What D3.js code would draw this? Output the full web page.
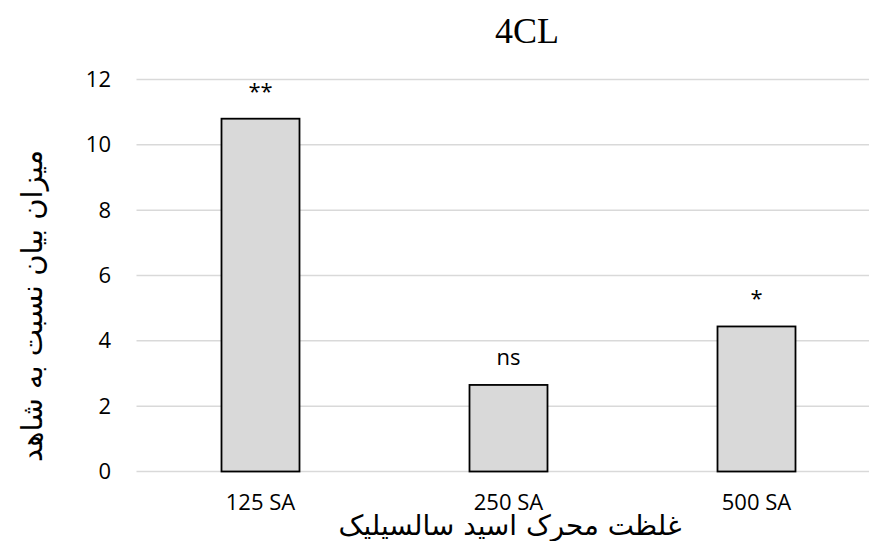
<!DOCTYPE html>
<html>
<head>
<meta charset="utf-8">
<script src="https://cdn.jsdelivr.net/npm/d3@7/dist/d3.min.js"></script>
<style>
  html, body { margin: 0; padding: 0; background: #fff; }
  svg { display: block; }
</style>
</head>
<body>
<svg id="chart" width="869" height="541"></svg>
<script>
// Relative 4CL expression at three salicylic-acid elicitor concentrations
const categories = ["125 SA", "250 SA", "500 SA"];
const expression = [10.8, 2.65, 4.44];
const significance = ["**", "ns", "*"];
const yTicks = [0, 2, 4, 6, 8, 10, 12];

const chartTitle = "4CL";
const xTitle = "غلظت محرک اسید سالسیلیک";
const yTitle = "میزان بیان نسبت به شاهد";

const svg = d3.select("#chart");
const W = 869, H = 541;

const x = d3.scaleBand()
  .domain(categories)
  .range([136.5, 880.5])
  .paddingInner(0.6855)
  .paddingOuter(0.6855 / 2);

const y = d3.scaleLinear()
  .domain([0, 12])
  .range([471.5, 79.5]);

// horizontal gridlines
svg.append("g")
  .selectAll("line")
  .data(yTicks)
  .join("line")
  .attr("x1", 136.5)
  .attr("x2", W)
  .attr("y1", d => y(d))
  .attr("y2", d => y(d))
  .attr("stroke", "#d9d9d9")
  .attr("stroke-width", 1.5);

// bars
svg.append("g")
  .selectAll("rect")
  .data(categories)
  .join("rect")
  .attr("x", d => x(d))
  .attr("width", x.bandwidth())
  .attr("y", (d, i) => y(expression[i]))
  .attr("height", (d, i) => y(0) - y(expression[i]))
  .attr("fill", "#d9d9d9")
  .attr("stroke", "#000")
  .attr("stroke-width", 1.8);

// significance marks above bars
svg.append("g")
  .selectAll("text")
  .data(categories)
  .join("text")
  .attr("x", d => x(d) + x.bandwidth() / 2)
  .attr("y", (d, i) => y(expression[i]) - 20)
  .attr("text-anchor", "middle")
  .attr("font-family", "'Open Sans', sans-serif")
  .attr("font-size", 22)
  .attr("fill", "#000")
  .text((d, i) => significance[i]);

// y axis tick labels
const yAxis = d3.axisLeft(y).tickValues(yTicks).tickSize(0).tickPadding(0);
const gy = svg.append("g").attr("transform", "translate(111,0)").call(yAxis);
gy.select(".domain").remove();
gy.selectAll("text")
  .attr("font-family", "'Open Sans', sans-serif")
  .attr("font-size", 22)
  .attr("fill", "#000");

// x axis tick labels
const xAxis = d3.axisBottom(x).tickSize(0).tickPadding(0);
const gx = svg.append("g").call(xAxis);
gx.select(".domain").remove();
gx.selectAll("text")
  .attr("y", 510)
  .attr("dy", null)
  .attr("font-family", "'Open Sans', sans-serif")
  .attr("font-size", 22)
  .attr("fill", "#000");

// chart title
svg.append("text")
  .attr("x", 527)
  .attr("y", 43)
  .attr("text-anchor", "middle")
  .attr("font-family", "'Liberation Serif', 'Times New Roman', serif")
  .attr("font-size", 36)
  .attr("fill", "#000")
  .text(chartTitle);

// fit a text element to a target width by adjusting its font size
function fitWidth(sel, target) {
  const len = sel.node().getComputedTextLength();
  const fs = +sel.attr("font-size");
  if (len > 0) sel.attr("font-size", fs * target / len);
}

// x axis title
const xt = svg.append("text")
  .attr("x", 510)
  .attr("y", 535)
  .attr("text-anchor", "middle")
  .attr("direction", "rtl")
  .attr("font-family", "'DejaVu Sans', sans-serif")
  .attr("font-size", 24)
  .attr("fill", "#000")
  .text(xTitle);
fitWidth(xt, 343);

// y axis title
const yt = svg.append("text")
  .attr("transform", "translate(42,306) rotate(-90)")
  .attr("text-anchor", "middle")
  .attr("direction", "rtl")
  .attr("font-family", "'DejaVu Sans', sans-serif")
  .attr("font-size", 24)
  .attr("fill", "#000")
  .text(yTitle);
fitWidth(yt, 312);
</script>
</body>
</html>
